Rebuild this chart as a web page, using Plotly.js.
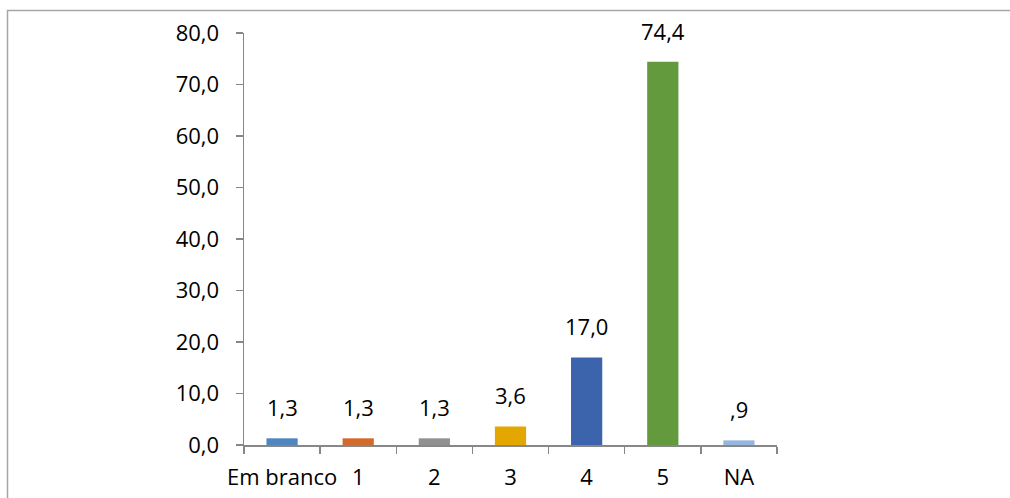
<!DOCTYPE html>
<html><head><meta charset="utf-8">
<script src="https://cdn.plot.ly/plotly-3.0.1.min.js"></script>
<style>html,body{margin:0;padding:0;background:#fff;overflow:hidden}#c{width:1010px;height:498px}</style>
</head><body><div id="c"></div>
<script>
const categories = ["Em branco", "1", "2", "3", "4", "5", "NA"];
const values = [1.3, 1.3, 1.3, 3.6, 17.0, 74.4, 0.9];
const labels = ["1,3", "1,3", "1,3", "3,6", "17,0", "74,4", ",9"];
const colors = ["#4F86BF", "#D26A2B", "#919191", "#E3A700", "#3B64AD", "#629A3D", "#95B6DE"];
const yTickVals = [0, 10, 20, 30, 40, 50, 60, 70, 80];
const yTickText = ["0,0", "10,0", "20,0", "30,0", "40,0", "50,0", "60,0", "70,0", "80,0"];

const W = 1010, H = 498;
const L = 244, R = 777, T = 33, B = 445;
const pw = R - L, ph = B - T;
const font = "Open Sans, Noto Sans, sans-serif";
const fs = 22;

const trace = {
  type: "bar", x: categories, y: values,
  marker: {color: colors}, width: 0.41,
  hoverinfo: "none"
};
const annotations = categories.map((c, i) => ({
  x: c, y: values[i], xref: "x", yref: "y", text: labels[i],
  showarrow: false, yanchor: "bottom", yshift: 14,
  font: {family: font, size: fs, color: "#000"}
}));
const layout = {
  width: W, height: H,
  margin: {l: L, r: W - R, t: T, b: H - B, pad: 0},
  paper_bgcolor: "#fff", plot_bgcolor: "#fff",
  showlegend: false,
  font: {family: font, size: fs, color: "#000"},
  xaxis: {
    type: "category", tickangle: 0,
    showline: true, linecolor: "#878787", linewidth: 1.5,
    ticks: "outside", tickson: "boundaries", ticklen: 7, tickcolor: "#878787", tickwidth: 1.5,
    showgrid: false, zeroline: false, ticklabelstandoff: 12,
    tickfont: {family: font, size: fs, color: "#000"}
  },
  yaxis: {
    range: [0, 80], tickvals: yTickVals, ticktext: yTickText,
    showline: true, linecolor: "#878787", linewidth: 1.5,
    ticks: "outside", ticklen: 7, tickcolor: "#878787", tickwidth: 1.5,
    showgrid: false, zeroline: false, ticklabelstandoff: 12,
    tickfont: {family: font, size: fs, color: "#000"}
  },
  annotations: annotations,
  shapes: [{
    type: "rect", xref: "paper", yref: "paper",
    x0: (7.5 - L) / pw, x1: (1020 - L) / pw,
    y0: (B - 510) / ph, y1: (B - 10.5) / ph,
    line: {color: "#A6A6A6", width: 1.5}, fillcolor: "rgba(0,0,0,0)", layer: "below"
  }]
};
Plotly.newPlot("c", [trace], layout, {staticPlot: true, displayModeBar: false});
</script></body></html>
